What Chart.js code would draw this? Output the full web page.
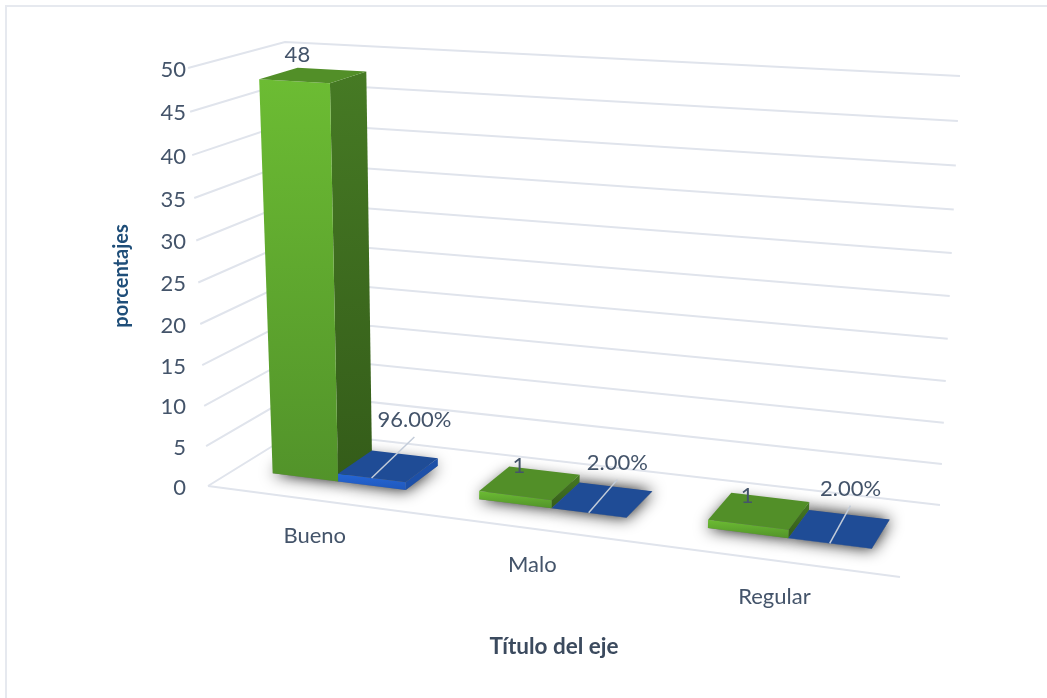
<!DOCTYPE html>
<html>
<head>
<meta charset="utf-8">
<title>Chart</title>
<script src="https://cdn.jsdelivr.net/npm/chart.js@4/dist/chart.umd.min.js"></script>
<style>
    html, body { margin: 0; padding: 0; background: #fff; overflow: hidden; }
    canvas { display: block; }
</style>
</head>
<body>
<canvas id="chart" width="1047" height="698"></canvas>
<script>
var categories = ['Bueno', 'Malo', 'Regular'];
var frecuencia = [48, 1, 1];
var porcentaje = [0.96, 0.02, 0.02];
var porcentajeLabels = ['96.00%', '2.00%', '2.00%'];

// corners of the 3d box on the page, floor and top
var floorCorners = [[208, 486], [900, 577], [940, 505], [297, 431]];
var topCorners = [[188, 68], [920, 109], [960, 76], [285, 42]];
var depthFront = 0.30, depthBack = 0.71;
var barShift = 0.005;
var heightBend = 0.949;

var textColor = '#44546a';
var gridColor = '#e0e4ec';

function quadMap(p) {
    var dx1 = p[1][0] - p[2][0], dx2 = p[3][0] - p[2][0], sx = p[0][0] - p[1][0] + p[2][0] - p[3][0];
    var dy1 = p[1][1] - p[2][1], dy2 = p[3][1] - p[2][1], sy = p[0][1] - p[1][1] + p[2][1] - p[3][1];
    var det = dx1 * dy2 - dx2 * dy1;
    var g = (sx * dy2 - dx2 * sy) / det, h = (dx1 * sy - sx * dy1) / det;
    var a = p[1][0] - p[0][0] + g * p[1][0], b = p[3][0] - p[0][0] + h * p[3][0];
    var d = p[1][1] - p[0][1] + g * p[1][1], e = p[3][1] - p[0][1] + h * p[3][1];
    return function (u, w) {
        var n = g * u + h * w + 1;
        return [(a * u + b * w + p[0][0]) / n, (d * u + e * w + p[0][1]) / n];
    };
}

var floorMap = quadMap(floorCorners);
var topMap = quadMap(topCorners);

// u along the categories, w into the depth, v up the value axis (all 0..1)
function project(u, w, v) {
    var t = v * heightBend / (1 + v * (heightBend - 1));
    var a = floorMap(u, w), b = topMap(u, w);
    return [a[0] + (b[0] - a[0]) * t, a[1] + (b[1] - a[1]) * t];
}

function poly(ctx, pts, fill) {
    ctx.beginPath();
    pts.forEach(function (p, i) {
        if (i === 0) ctx.moveTo(p[0], p[1]); else ctx.lineTo(p[0], p[1]);
    });
    ctx.closePath();
    ctx.fillStyle = fill;
    ctx.fill();
}

function vGradient(ctx, y0, y1, c0, c1) {
    var g = ctx.createLinearGradient(0, y0, 0, y1);
    g.addColorStop(0, c0);
    g.addColorStop(1, c1);
    return g;
}

var threeD = {
    id: 'threeD',
    beforeDatasetsDraw: function (chart) {
        var ctx = chart.ctx, area = chart.chartArea, yScale = chart.scales.y, xScale = chart.scales.x;
        var opts = chart.options.plugins.threeD;

        function vOf(pixel) { return (area.bottom - pixel) / area.height; }
        function uOf(pixel) { return (pixel - area.left) / area.width; }

        ctx.save();

        // frame of the chart box, only top and left show
        ctx.strokeStyle = '#e6e9ef';
        ctx.lineWidth = 2;
        ctx.beginPath();
        ctx.moveTo(6, 698);
        ctx.lineTo(6, 6);
        ctx.lineTo(1047, 6);
        ctx.stroke();

        // walls and floor
        ctx.strokeStyle = gridColor;
        ctx.lineWidth = 2;
        ctx.font = opts.font;
        ctx.textAlign = 'right';
        ctx.textBaseline = 'middle';
        yScale.ticks.forEach(function (tick) {
            var v = vOf(yScale.getPixelForValue(tick.value));
            var a = project(0, 0, v), b = project(0, 1, v), c = project(1, 1, v);
            ctx.beginPath();
            ctx.moveTo(a[0], a[1]);
            ctx.lineTo(b[0], b[1]);
            ctx.lineTo(c[0], c[1]);
            ctx.stroke();
            ctx.fillStyle = textColor;
            ctx.fillText(String(tick.value), 186, a[1] + 1.5);
        });
        var f0 = project(0, 0, 0), f1 = project(1, 0, 0);
        ctx.beginPath();
        ctx.moveTo(f0[0], f0[1]);
        ctx.lineTo(f1[0], f1[1]);
        ctx.stroke();

        // category names under the front edge
        ctx.textAlign = 'center';
        categories.forEach(function (name, i) {
            var p = project(uOf(xScale.getPixelForValue(i)), 0, 0);
            ctx.fillStyle = textColor;
            ctx.fillText(name, p[0] + opts.categoryShift[0], p[1] + opts.categoryShift[1]);
        });

        var bars = [];
        chart.data.datasets.forEach(function (ds, d) {
            chart.getDatasetMeta(d).data.forEach(function (el, i) {
                var half = el.width / 2;
                bars.push({
                    d: d, i: i, ds: ds,
                    u0: uOf(el.x - half) + barShift, u1: uOf(el.x + half) + barShift,
                    v: vOf(el.y)
                });
            });
        });

        // soft shadow on the floor
        bars.forEach(function (b) {
            ctx.save();
            ctx.shadowColor = 'rgba(0,0,0,0.95)';
            ctx.shadowBlur = 16;
            poly(ctx, [project(b.u0, depthFront, 0), project(b.u1, depthFront, 0),
                project(b.u1, depthBack, 0), project(b.u0, depthBack, 0)], '#777');
            ctx.restore();
        });

        bars.forEach(function (b) {
            var fl = project(b.u0, depthFront, 0), fr = project(b.u1, depthFront, 0), br = project(b.u1, depthBack, 0);
            var tfl = project(b.u0, depthFront, b.v), tfr = project(b.u1, depthFront, b.v);
            var tbr = project(b.u1, depthBack, b.v), tbl = project(b.u0, depthBack, b.v);
            poly(ctx, [tfr, tbr, br, fr], vGradient(ctx, tbr[1], fr[1], b.ds.sideColors[0], b.ds.sideColors[1]));
            poly(ctx, [tfl, tfr, fr, fl], vGradient(ctx, tfl[1], fr[1], b.ds.frontColors[0], b.ds.frontColors[1]));
            poly(ctx, [tfl, tfr, tbr, tbl], b.ds.topColor);
        });

        // value labels, the blue ones carry a leader line
        ctx.font = opts.font;
        ctx.textAlign = 'center';
        bars.forEach(function (b) {
            var mid = (b.u0 + b.u1) / 2;
            var c = project(mid, (depthFront + depthBack) / 2, b.v);
            var s = b.ds.labelShift[b.i];
            var x = c[0] + s[0], y = c[1] + s[1];
            if (b.ds.leader) {
                var f = project(mid, depthFront, b.v);
                ctx.strokeStyle = '#c3ccd9';
                ctx.lineWidth = 1.5;
                ctx.beginPath();
                ctx.moveTo(x, y + 17);
                ctx.lineTo(f[0], f[1]);
                ctx.stroke();
            }
            ctx.fillStyle = textColor;
            var text = b.ds.labelTexts ? b.ds.labelTexts[b.i] : String(b.ds.data[b.i]);
            ctx.fillText(text, x, y);
        });

        ctx.restore();
        return false;
    }
};

new Chart(document.getElementById('chart'), {
    type: 'bar',
    data: {
        labels: categories,
        datasets: [{
            label: 'Frecuencia',
            data: frecuencia,
            backgroundColor: '#5fa82e',
            frontColors: ['#6cbc33', '#52932a'],
            sideColors: ['#467a24', '#345c19'],
            topColor: '#528f28',
            labelShift: [[-16, -20], [-11, -17], [-12, -15]]
        }, {
            label: 'Porcentaje',
            data: porcentaje,
            backgroundColor: '#1f4e9c',
            frontColors: ['#2566d6', '#2058bb'],
            sideColors: ['#1d50a8', '#1d50a8'],
            topColor: '#1f4c96',
            labelTexts: porcentajeLabels,
            leader: true,
            labelShift: [[26, -46], [15, -37], [11, -40]]
        }]
    },
    options: {
        responsive: false,
        animation: false,
        layout: { padding: { left: 110, right: 81, top: 54, bottom: 38 } },
        categoryPercentage: 0.656,
        barPercentage: 1,
        scales: {
            x: {
                ticks: { display: false },
                grid: { display: false },
                border: { display: false },
                title: {
                    display: true,
                    text: 'Título del eje',
                    color: '#3b4a5e',
                    font: { family: 'Lato', size: 22.5, weight: 'bold' },
                    padding: { top: 127, bottom: 0 }
                }
            },
            y: {
                min: 0,
                max: 50,
                ticks: { display: false, stepSize: 5 },
                grid: { display: false },
                border: { display: false },
                title: {
                    display: true,
                    text: 'porcentajes',
                    color: '#1f4e79',
                    font: { family: 'Lato', size: 20, weight: 'bold' },
                    padding: 0
                }
            }
        },
        plugins: {
            legend: { display: false },
            tooltip: { enabled: false },
            threeD: { font: '22px Lato', categoryShift: [6, 37] }
        }
    },
    plugins: [threeD]
});
</script>
</body>
</html>
